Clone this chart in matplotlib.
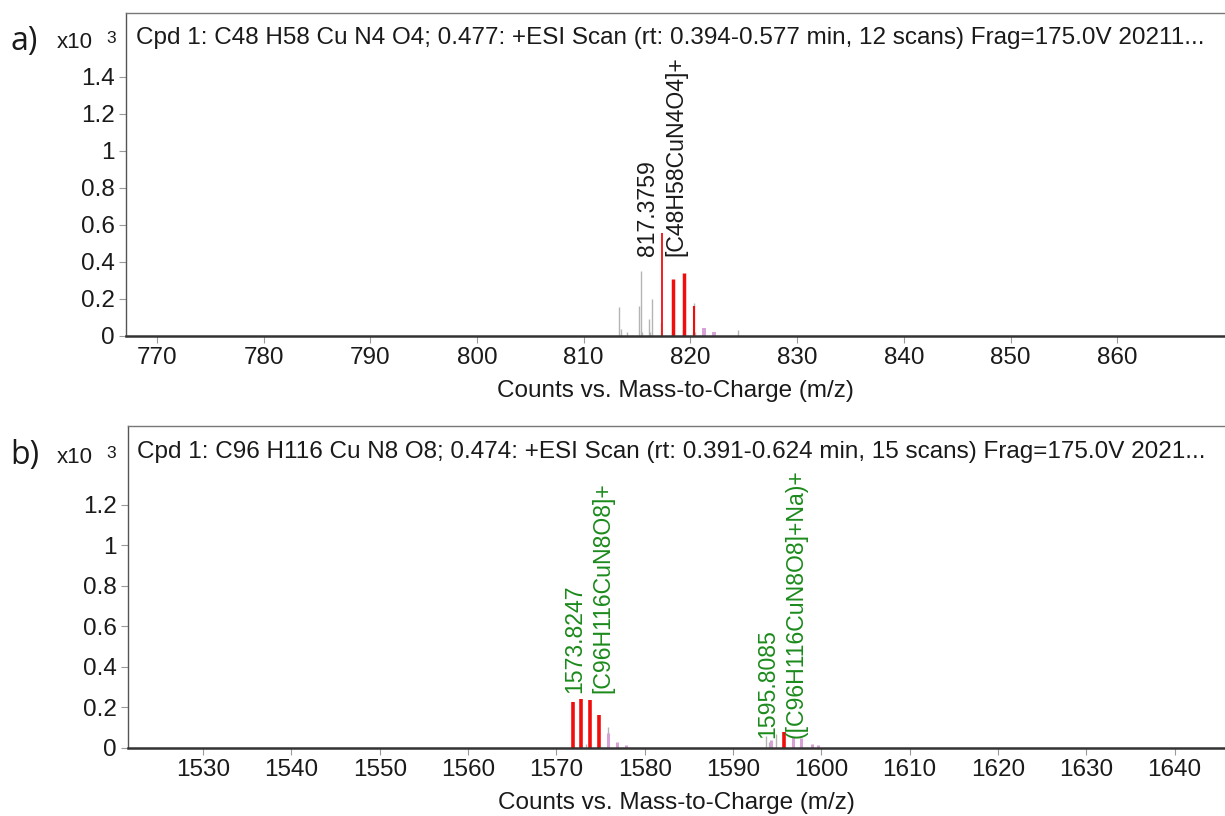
import matplotlib
matplotlib.use("Agg")
import matplotlib.pyplot as plt

plt.rcParams["font.family"] = ["Liberation Sans", "DejaVu Sans"]

# panel a: C48H58CuN4O4
a_title = ("Cpd 1: C48 H58 Cu N4 O4; 0.477: +ESI Scan (rt: 0.394-0.577 min, "
           "12 scans) Frag=175.0V 20211...")
a_gray_mz = [813.30, 813.46, 814.05, 815.17, 815.36, 815.50, 816.10, 816.20,
             816.36, 817.25, 819.32, 820.20, 820.30, 820.45, 821.28, 824.42]
a_gray_h = [0.155, 0.04, 0.02, 0.16, 0.35, 0.02, 0.09, 0.02,
            0.20, 0.07, 0.035, 0.02, 0.18, 0.02, 0.045, 0.03]
a_red_mz = [817.3759, 818.33, 819.36, 820.33]
a_red_h = [0.558, 0.31, 0.34, 0.16]
a_red_w = [1.3, 2.5, 2.5, 1.5]
a_pink_mz = [821.30, 822.23]
a_pink_h = [0.045, 0.02]
a_label = "817.3759\n[C48H58CuN4O4]+"
a_xticks = [770, 780, 790, 800, 810, 820, 830, 840, 850, 860]
a_yticks = [0, 0.2, 0.4, 0.6, 0.8, 1.0, 1.2, 1.4]

# panel b: C96H116CuN8O8
b_title = ("Cpd 1: C96 H116 Cu N8 O8; 0.474: +ESI Scan (rt: 0.391-0.624 min, "
           "15 scans) Frag=175.0V 2021...")
b_gray_mz = [1573.30, 1575.87, 1593.75, 1594.10, 1594.85, 1596.80, 1597.75]
b_gray_h = [0.02, 0.105, 0.06, 0.03, 0.07, 0.03, 0.02]
b_red_mz = [1571.84, 1572.74, 1573.80, 1574.78, 1595.80]
b_red_h = [0.229, 0.243, 0.237, 0.163, 0.08]
b_pink_mz = [1575.87, 1576.82, 1577.87, 1594.30, 1596.80, 1597.75, 1598.90, 1599.60]
b_pink_h = [0.072, 0.031, 0.015, 0.04, 0.055, 0.05, 0.02, 0.015]
b_label1 = "1573.8247\n[C96H116CuN8O8]+"
b_label2 = "1595.8085\n([C96H116CuN8O8]+Na)+"
b_xticks = [1530, 1540, 1550, 1560, 1570, 1580, 1590, 1600, 1610, 1620, 1630, 1640]
b_yticks = [0, 0.2, 0.4, 0.6, 0.8, 1.0, 1.2]

RED = "#f20d0d"
GRAY = "#b4b4b4"
PINK = "#d7a0d7"
GREEN = "#1c8a1c"
FS = 17.5      # horizontal texts
FS_ROT = 16.6  # rotated peak labels


def fmt(v):
    return "{:g}".format(round(v, 1))


def style_axes(ax, xticks, yticks, xlim, ylim):
    ax.set_xlim(*xlim)
    ax.set_ylim(*ylim)
    ax.set_xticks(xticks)
    ax.set_xticklabels([str(t) for t in xticks], fontsize=FS, color="#1a1a1a")
    ax.set_yticks(yticks)
    ax.set_yticklabels([fmt(t) for t in yticks], fontsize=FS, color="#1a1a1a")
    ax.tick_params(length=5, width=0.8, color="#9a9a9a", pad=3)
    ax.spines["right"].set_visible(False)
    ax.spines["bottom"].set_linewidth(1.8)
    ax.spines["bottom"].set_color("#333333")
    ax.spines["left"].set_linewidth(1.0)
    ax.spines["left"].set_color("#555555")
    ax.spines["top"].set_linewidth(1.0)
    ax.spines["top"].set_color("#777777")
    ax.set_xlabel("Counts vs. Mass-to-Charge (m/z)", fontsize=FS,
                  color="#1a1a1a", labelpad=8)


fig = plt.figure(figsize=(12.25, 8.16), dpi=100)

# ---- panel a
ax1 = fig.add_axes([126 / 1225, 1 - 336 / 816, 1 - 126 / 1225, 323 / 816])
ax1.vlines(a_gray_mz, 0, a_gray_h, colors=GRAY, linewidth=1.0)
ax1.vlines(a_pink_mz, 0, a_pink_h, colors=PINK, linewidth=2.8)
for x, h, w in zip(a_red_mz, a_red_h, a_red_w):
    ax1.vlines(x, 0, h, colors=RED, linewidth=w)
style_axes(ax1, a_xticks, a_yticks, (767.1, 870.1), (0, 1.745))
ax1.text(0.009, 0.923, a_title, transform=ax1.transAxes, fontsize=FS,
         va="center", ha="left", color="#1a1a1a")
ax1.text(a_red_mz[0] - 0.05, 0.43, a_label, rotation=90, ha="center",
         va="bottom", multialignment="left", fontsize=FS_ROT, color="#1a1a1a",
         linespacing=1.3)

# ---- panel b
ax2 = fig.add_axes([128 / 1225, 1 - 748 / 816, 1 - 128 / 1225, 322 / 816])
ax2.vlines(b_gray_mz, 0, b_gray_h, colors=GRAY, linewidth=1.0)
ax2.vlines(b_pink_mz, 0, b_pink_h, colors=PINK, linewidth=2.2)
ax2.vlines(b_red_mz, 0, b_red_h, colors=RED, linewidth=2.6)
style_axes(ax2, b_xticks, b_yticks, (1521.5, 1645.7), (0, 1.59))
ax2.text(0.008, 0.919, b_title, transform=ax2.transAxes, fontsize=FS,
         va="center", ha="left", color="#1a1a1a")
ax2.text(1573.7, 0.27, b_label1, rotation=90, ha="center", va="bottom",
         multialignment="left", fontsize=FS_ROT, color=GREEN, linespacing=1.3)
ax2.text(1595.5, 0.05, b_label2, rotation=90, ha="center", va="bottom",
         multialignment="left", fontsize=FS_ROT, color=GREEN, linespacing=1.3)

# panel letters and scale factors
fig.text(10 / 1225, 1 - 50 / 816, "a)", fontsize=23, family="Open Sans",
         color="#1a1a1a")
fig.text(10 / 1225, 1 - 464 / 816, "b)", fontsize=23, family="Open Sans",
         color="#1a1a1a")
for ybase in (48, 463):
    fig.text(57 / 1225, 1 - ybase / 816, "x10", fontsize=16, color="#1a1a1a")
    fig.text(106 / 1225, 1 - (ybase - 5) / 816, "3", fontsize=12.5,
             color="#1a1a1a")

fig.savefig("out.png", dpi=100)
